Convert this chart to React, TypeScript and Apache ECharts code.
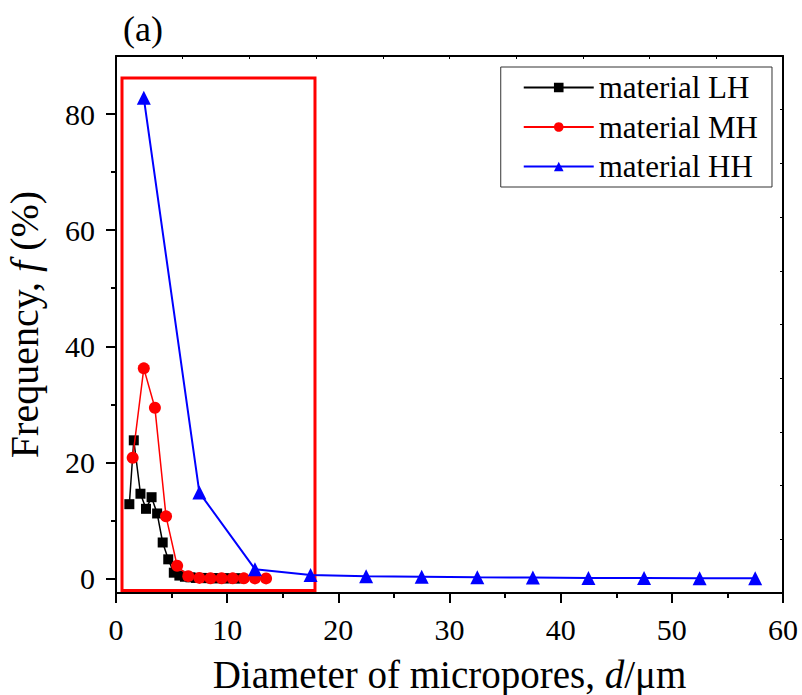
import React, { useEffect, useRef } from "react";
import * as echarts from "echarts";

const LH_X = [1.2, 1.6, 2.2, 2.7, 3.2, 3.7, 4.2, 4.7, 5.2, 5.7, 6.2, 6.7, 7.2, 7.7, 8.2, 8.7, 9.2, 9.7, 10.2, 10.7, 11.2];
const LH_Y = [12.8, 23.8, 14.6, 12.0, 14.0, 11.2, 6.2, 3.3, 1.0, 0.5, 0.3, 0.2, 0.1, 0.1, 0.05, 0.05, 0.03, 0.03, 0.02, 0.02, 0.01];
const MH_X = [1.5, 2.5, 3.5, 4.5, 5.5, 6.5, 7.5, 8.5, 9.5, 10.5, 11.5, 12.5, 13.5];
const MH_Y = [20.8, 36.2, 29.4, 10.7, 2.2, 0.4, 0.1, 0.05, 0.03, 0.02, 0.02, 0.01, 0.01];
const HH_X = [2.5, 7.5, 12.5, 17.5, 22.5, 27.5, 32.5, 37.5, 42.5, 47.5, 52.5, 57.5];
const HH_Y = [82.8, 14.8, 1.6, 0.6, 0.4, 0.3, 0.2, 0.15, 0.1, 0.08, 0.05, 0.05];
const Y_TICKS = [0, 20, 40, 60, 80];
const Y_MINOR = [10, 30, 50, 70];
const BOX_X = [0.54, 17.9];
const BOX_Y = [86.2, -2.07];
const SERIES_NAMES = ["material LH", "material MH", "material HH"];

const FONT = "'Liberation Serif', 'Times New Roman', serif";

export default function App() {
  const ref = useRef<HTMLDivElement>(null);
  useEffect(() => {
    document.body.style.margin = "0";
    const chart = echarts.init(ref.current!, null, { renderer: "svg" });
    const zip = (xs: number[], ys: number[]) => xs.map((x, i) => [x, ys[i]]);
    chart.setOption({
      animation: false,
      backgroundColor: "#fff",
      textStyle: { fontFamily: FONT, color: "#000" },
      grid: { left: 116, top: 56, right: 19, bottom: 102, outerBoundsMode: "none", containLabel: false },
      graphic: [
        {
          type: "text",
          left: 123,
          top: 11,
          style: { text: "(a)", font: `36px ${FONT}`, fill: "#000" },
        },
      ],
      legend: {
        data: SERIES_NAMES,
        orient: "vertical",
        right: 30,
        top: 67,
        padding: [5, 14, 5, 22],
        itemGap: 8.5,
        itemWidth: 70,
        itemHeight: 12,
        borderColor: "#333",
        borderWidth: 1,
        textStyle: { fontFamily: FONT, fontSize: 31, color: "#000" },
      },
      xAxis: [
        {
          type: "value",
          min: 0,
          max: 60,
          interval: 10,
          position: "bottom",
          name: "Diameter of micropores, {i|d}/μm",
          nameLocation: "middle",
          nameGap: 62,
          nameMoveOverlap: false,
          nameTextStyle: {
            fontFamily: FONT,
            fontSize: 39,
            color: "#000",
            rich: { i: { fontFamily: FONT, fontSize: 39, fontStyle: "italic", color: "#000" } },
          },
          axisLine: { show: true, onZero: false, lineStyle: { color: "#000", width: 2 } },
          axisTick: { show: true, inside: false, length: 10, lineStyle: { color: "#000", width: 2 } },
          minorTick: { show: true, splitNumber: 2, length: 5, lineStyle: { color: "#000", width: 2 } },
          axisLabel: { fontFamily: FONT, fontSize: 30, color: "#000", margin: 21 },
          splitLine: { show: false },
        },
        {
          type: "value",
          min: 0,
          max: 60,
          interval: 6,
          position: "top",
          axisLine: { show: true, onZero: false, lineStyle: { color: "#000", width: 2 } },
          axisTick: { show: true, inside: true, length: 3, lineStyle: { color: "#000", width: 1 } },
          axisLabel: { show: false },
          splitLine: { show: false },
        },
      ],
      yAxis: [
        {
          type: "value",
          min: -2.5,
          max: 90,
          position: "left",
          name: "Frequency, {i|f} (%)",
          nameLocation: "middle",
          nameGap: 72,
          nameRotate: 90,
          nameTextStyle: {
            fontFamily: FONT,
            fontSize: 40,
            color: "#000",
            rich: { i: { fontFamily: FONT, fontSize: 40, fontStyle: "italic", color: "#000" } },
          },
          axisLine: { show: true, onZero: false, lineStyle: { color: "#000", width: 2 } },
          axisTick: { show: true, inside: false, length: 10, customValues: Y_TICKS, lineStyle: { color: "#000", width: 2 } },
          axisLabel: { fontFamily: FONT, fontSize: 30, color: "#000", margin: 21, customValues: Y_TICKS },
          splitLine: { show: false },
        },
        {
          type: "value",
          min: -2.5,
          max: 90,
          position: "left",
          axisLine: { show: false },
          axisTick: { show: true, inside: false, length: 5, customValues: Y_MINOR, lineStyle: { color: "#000", width: 2 } },
          axisLabel: { show: false },
          splitLine: { show: false },
        },
        {
          type: "value",
          min: -2.5,
          max: 90,
          interval: 9.25,
          position: "right",
          axisLine: { show: true, onZero: false, lineStyle: { color: "#000", width: 2 } },
          axisTick: { show: true, inside: true, length: 3, lineStyle: { color: "#000", width: 1 } },
          axisLabel: { show: false },
          splitLine: { show: false },
        },
      ],
      series: [
        {
          name: SERIES_NAMES[0],
          type: "line",
          data: zip(LH_X, LH_Y),
          symbol: "rect",
          symbolSize: 10,
          itemStyle: { color: "#000" },
          lineStyle: { color: "#000", width: 1.5 },
          z: 3,
        },
        {
          name: SERIES_NAMES[1],
          type: "line",
          data: zip(MH_X, MH_Y),
          symbol: "circle",
          symbolSize: 12,
          itemStyle: { color: "#ff0000" },
          lineStyle: { color: "#ff0000", width: 1.5 },
          z: 4,
        },
        {
          name: SERIES_NAMES[2],
          type: "line",
          data: zip(HH_X, HH_Y),
          symbol: "triangle",
          symbolSize: 14,
          itemStyle: { color: "#0000ff" },
          lineStyle: { color: "#0000ff", width: 2 },
          z: 5,
        },
        {
          name: "box",
          type: "line",
          data: [],
          z: 10,
          silent: true,
          markArea: {
            silent: true,
            itemStyle: { color: "rgba(0,0,0,0)", borderColor: "#ff0000", borderWidth: 3 },
            data: [[{ coord: [BOX_X[0], BOX_Y[0]] }, { coord: [BOX_X[1], BOX_Y[1]] }]],
          },
        },
      ],
    });
    return () => chart.dispose();
  }, []);
  return <div ref={ref} style={{ width: 802, height: 695 }} />;
}
